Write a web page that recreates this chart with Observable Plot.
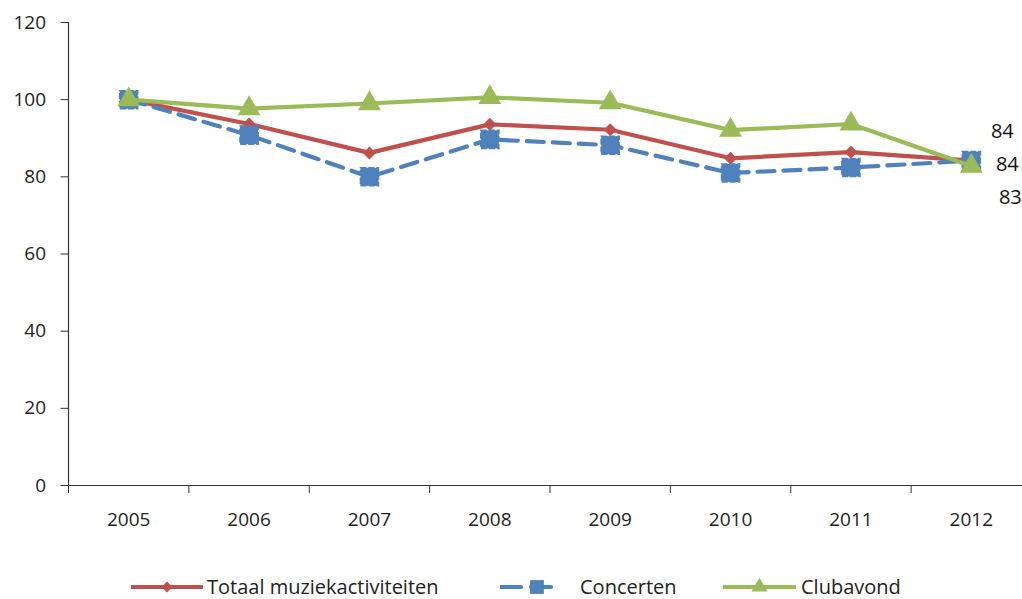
<!DOCTYPE html>
<html><head><meta charset="utf-8">
<script src="https://cdn.jsdelivr.net/npm/d3@7"></script>
<script src="https://cdn.jsdelivr.net/npm/@observablehq/plot@0.6"></script>
<style>
html,body{margin:0;padding:0;background:#fff;}
#wrap{position:relative;width:1022px;height:599px;overflow:hidden;font-family:"Open Sans",sans-serif;color:#222;}
#chart svg{display:block;max-width:none !important;}
#legend{position:absolute;left:131px;top:576px;height:22px;display:flex;align-items:center;font-size:20px;line-height:22px;white-space:nowrap;}
#legend .item{display:flex;align-items:center;}
#legend svg{display:block;}
</style></head><body>
<div id="wrap"><div id="chart"></div><div id="legend"></div></div>
<script>
const years = [2005, 2006, 2007, 2008, 2009, 2010, 2011, 2012];
const totaal = [100, 93.7, 86.2, 93.6, 92.2, 84.8, 86.4, 84.2];
const concerten = [100, 90.8, 80.0, 89.7, 88.2, 81.0, 82.4, 84.2];
const clubavond = [100, 97.7, 99.0, 100.6, 99.2, 92.1, 93.7, 82.8];
const seriesNames = ["Totaal muziekactiviteiten", "Concerten", "Clubavond"];
const seriesColors = ["#C0504D", "#4F81BD", "#9BBB59"];
const endLabels = ["84", "84", "83"];
const yTicks = [0, 20, 40, 60, 80, 100, 120];

const allSeries = [totaal, concerten, clubavond];
const rows = allSeries.map((vals, i) => years.map((yr, j) => ({year: yr, value: vals[j], series: seriesNames[i]})));
const boundaries = [...years.map(y => y - 0.5), years[years.length - 1] + 0.5];
const last = years.length - 1;
const endRows = allSeries.map((vals, i) => ({year: years[last], value: vals[last], label: endLabels[i]}));

const font = "Open Sans, sans-serif";
const axisColor = "#333";

const chart = Plot.plot({
  width: 1031,
  height: 545,
  marginLeft: 68,
  marginRight: 0,
  marginTop: 22,
  marginBottom: 60,
  style: {fontFamily: font, fontSize: "19px", color: "#222", background: "#fff", overflow: "visible", maxWidth: "none"},
  x: {type: "linear", domain: [boundaries[0], boundaries[boundaries.length - 1]]},
  y: {domain: [0, 120]},
  marks: [
    Plot.ruleY([0], {stroke: axisColor, strokeWidth: 1.2}),
    Plot.ruleX([boundaries[0]], {y1: 0, y2: 120, stroke: axisColor, strokeWidth: 1.2}),
    Plot.axisY({ticks: yTicks, tickSize: 7.5, tickPadding: 15, label: null, stroke: axisColor, fontSize: 19}),
    Plot.axisX({ticks: boundaries, tickSize: 8, tickFormat: () => "", label: null, stroke: axisColor}),
    Plot.axisX({ticks: years, tickSize: 0, tickPadding: 27, tickFormat: d => String(d), label: null, fontSize: 19}),
    // Totaal
    Plot.line(rows[0], {x: "year", y: "value", stroke: seriesColors[0], strokeWidth: 4.2}),
    Plot.dot(rows[0], {x: "year", y: "value", symbol: "square", rotate: 45, r: 5.2, fill: seriesColors[0], stroke: "none"}),
    // Concerten
    Plot.line(rows[1], {x: "year", y: "value", stroke: seriesColors[1], strokeWidth: 4.2, strokeDasharray: "17,9"}),
    Plot.dot(rows[1], {x: "year", y: "value", symbol: "square", r: 10.2, fill: seriesColors[1], stroke: seriesColors[1], strokeWidth: 1.5, strokeDasharray: "6,2"}),
    // Clubavond
    Plot.line(rows[2], {x: "year", y: "value", stroke: seriesColors[2], strokeWidth: 4.2}),
    Plot.dot(rows[2], {x: "year", y: "value", symbol: "triangle", r: 8.5, fill: seriesColors[2], stroke: "none"}),
    // end labels
    Plot.text([endRows[0]], {x: "year", y: "value", text: "label", dx: 31, dy: -29, fontSize: 20, fill: "#111"}),
    Plot.text([endRows[1]], {x: "year", y: "value", text: "label", dx: 36, dy: 4, fontSize: 20, fill: "#111"}),
    Plot.text([endRows[2]], {x: "year", y: "value", text: "label", dx: 39, dy: 32, fontSize: 20, fill: "#111"})
  ]
});
document.getElementById("chart").appendChild(chart);

// Legend
const legend = d3.select("#legend");
const swatchSpec = [
  {w: 72, dash: null, sym: "diamond", textW: 251, gapAfter: 42, gapBefore: 4},
  {w: 57, dash: "20,10", sym: "square", textW: 103, gapAfter: 40, gapBefore: 23},
  {w: 73, dash: null, sym: "triangle", textW: 107, gapAfter: 0, gapBefore: 5}
];
seriesNames.forEach((name, i) => {
  const s = swatchSpec[i];
  const item = legend.append("div").attr("class", "item").style("margin-right", s.gapAfter + "px");
  const svg = item.append("svg").attr("width", s.w).attr("height", 22);
  svg.append("line").attr("x1", 1).attr("x2", s.w - 1).attr("y1", 11).attr("y2", 11)
    .attr("stroke", seriesColors[i]).attr("stroke-width", 4.2).attr("stroke-linecap", "round")
    .attr("stroke-dasharray", s.dash);
  const cx = s.sym === "square" ? 37 : s.w / 2;
  let sym;
  if (s.sym === "diamond") sym = d3.symbol(d3.symbolSquare, 60);
  else if (s.sym === "square") sym = d3.symbol(d3.symbolSquare, 190);
  else sym = d3.symbol(d3.symbolTriangle, 110);
  svg.append("path").attr("d", sym())
    .attr("transform", `translate(${cx},11)` + (s.sym === "diamond" ? " rotate(45)" : ""))
    .attr("fill", seriesColors[i]);
  item.append("span").style("margin-left", s.gapBefore + "px").style("display", "inline-block")
    .style("width", s.textW + "px").text(name);
});
</script>
</body></html>
